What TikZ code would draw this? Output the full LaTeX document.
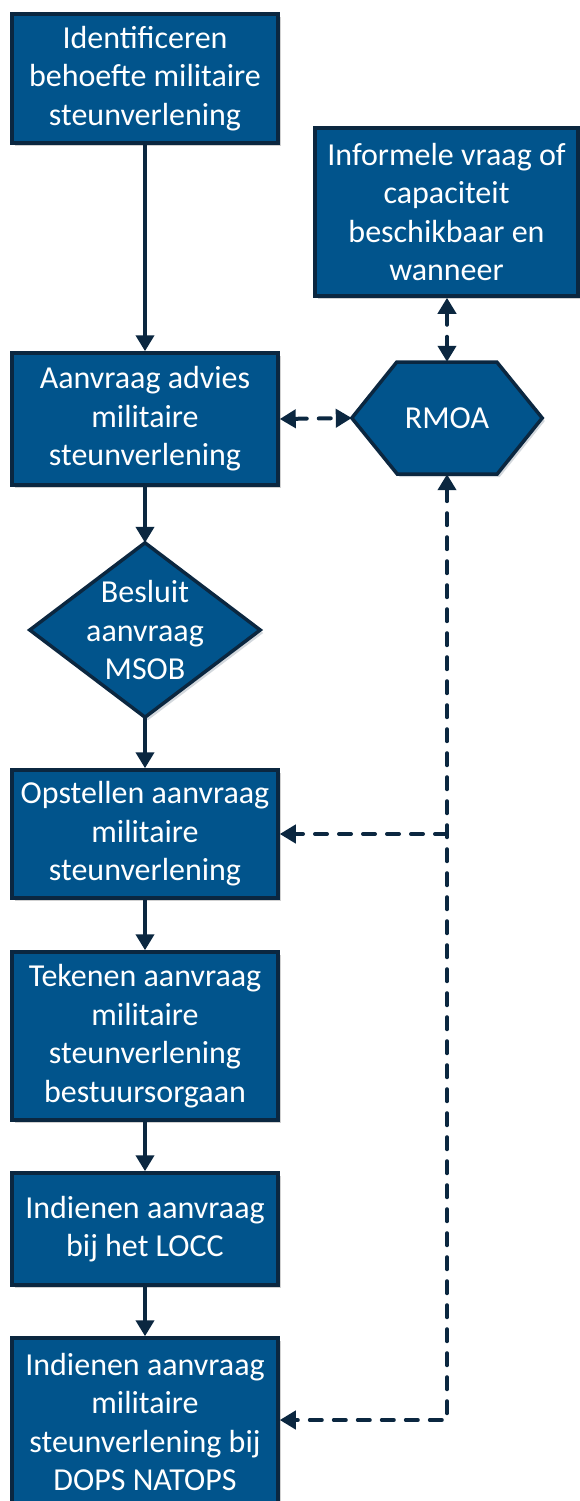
\documentclass[tikz,border=0pt]{standalone}
\usepackage{fontspec}
\setmainfont{Carlito}
\usetikzlibrary{arrows.meta,shadows}
\definecolor{boxblue}{HTML}{01548C}
\definecolor{navy}{HTML}{0B2740}
\tikzset{
  x=1pt,y=-1pt,
  txt/.style={text=white,align=center,font=\fontsize{32}{38.5}\selectfont},
  shad/.style={drop shadow={shadow xshift=3pt,shadow yshift=-3pt,opacity=0.18,fill=black}},
  stepbox/.style={txt,draw=navy,fill=boxblue,line width=3.5pt,minimum width=266pt,inner sep=0pt,shad},
  flow/.style={draw=navy,line width=4pt,-{Triangle[length=16pt,width=18pt]}},
  dflow/.style={draw=navy,line width=4pt,line cap=round,dash pattern=on 12pt off 12pt},
  tip/.style={-{Triangle[length=16pt,width=18pt]}},
  tips/.style={{Triangle[length=16pt,width=18pt]}-{Triangle[length=16pt,width=18pt]}},
}
\begin{document}
\begin{tikzpicture}
\useasboundingbox (0,0) rectangle (579,1501);
% boxes
\node[stepbox,minimum height=129pt] (b1) at (145,78.5) {Identificeren\\behoefte militaire\\steunverlening};
\node[stepbox,minimum height=168pt,minimum width=263pt] (inf) at (446.5,212) {Informele vraag of\\capaciteit\\beschikbaar en\\wanneer};
\node[stepbox,minimum height=132pt] (b2) at (145,419) {Aanvraag advies\\militaire\\steunverlening};
% hexagon RMOA
\node[txt,minimum width=190pt,minimum height=112pt,inner sep=0pt] (rmoa) at (447,418) {};
\fill[navy,opacity=0.18] ([xshift=3pt,yshift=-3pt]rmoa.west) -- ++(45,-56) -- ++(100,0) -- ++(45,56) -- ++(-45,56) -- ++(-100,0) -- cycle;
\draw[navy,fill=boxblue,line width=3.5pt,line join=miter] (rmoa.west) -- ++(45,-56) -- ++(100,0) -- (rmoa.east) -- ++(-45,56) -- ++(-100,0) -- cycle;
\node[txt] at (rmoa.center) {RMOA};
% diamond
\node[minimum width=230pt,minimum height=174pt,inner sep=0pt] (dia) at (145,630) {};
\fill[navy,opacity=0.18] ([xshift=3pt,yshift=-3pt]dia.north) -- ([xshift=3pt,yshift=-3pt]dia.east) -- ([xshift=3pt,yshift=-3pt]dia.south) -- ([xshift=3pt,yshift=-3pt]dia.west) -- cycle;
\draw[navy,fill=boxblue,line width=3.5pt] (dia.north) -- (dia.east) -- (dia.south) -- (dia.west) -- cycle;
\node[txt] at (dia.center) {Besluit\\aanvraag\\MSOB};
\node[stepbox,minimum height=128pt] (b3) at (145,834) {Opstellen aanvraag\\militaire\\steunverlening};
\node[stepbox,minimum height=168pt] (b4) at (145,1036) {Tekenen aanvraag\\militaire\\steunverlening\\bestuursorgaan};
\node[stepbox,minimum height=112pt] (b5) at (145,1229) {Indienen aanvraag\\bij het LOCC};
\node[stepbox,minimum height=168pt] (b6) at (145,1422) {Indienen aanvraag\\militaire\\steunverlening bij\\DOPS NATOPS};
% solid connectors
\draw[flow] (b1) -- (b2);
\draw[flow] (b2) -- (dia.north);
\draw[flow] (dia.south) -- (b3);
\draw[flow] (b3) -- (b4);
\draw[flow] (b4) -- (b5);
\draw[flow] (b5) -- (b6);
% dashed connectors
\coordinate (c1) at (447,834);
\coordinate (c2) at (447,1420);
\draw[dflow,tips] (b2.east) -- (rmoa.west);
\draw[dflow,tips] (inf.south -| rmoa.north) -- (rmoa.north);
\draw[dflow,tips] (rmoa.south) -- (c2) -- (b6.east |- c2);
\draw[dflow,tip] (c1) -- (b3.east |- c1);
\end{tikzpicture}
\end{document}
